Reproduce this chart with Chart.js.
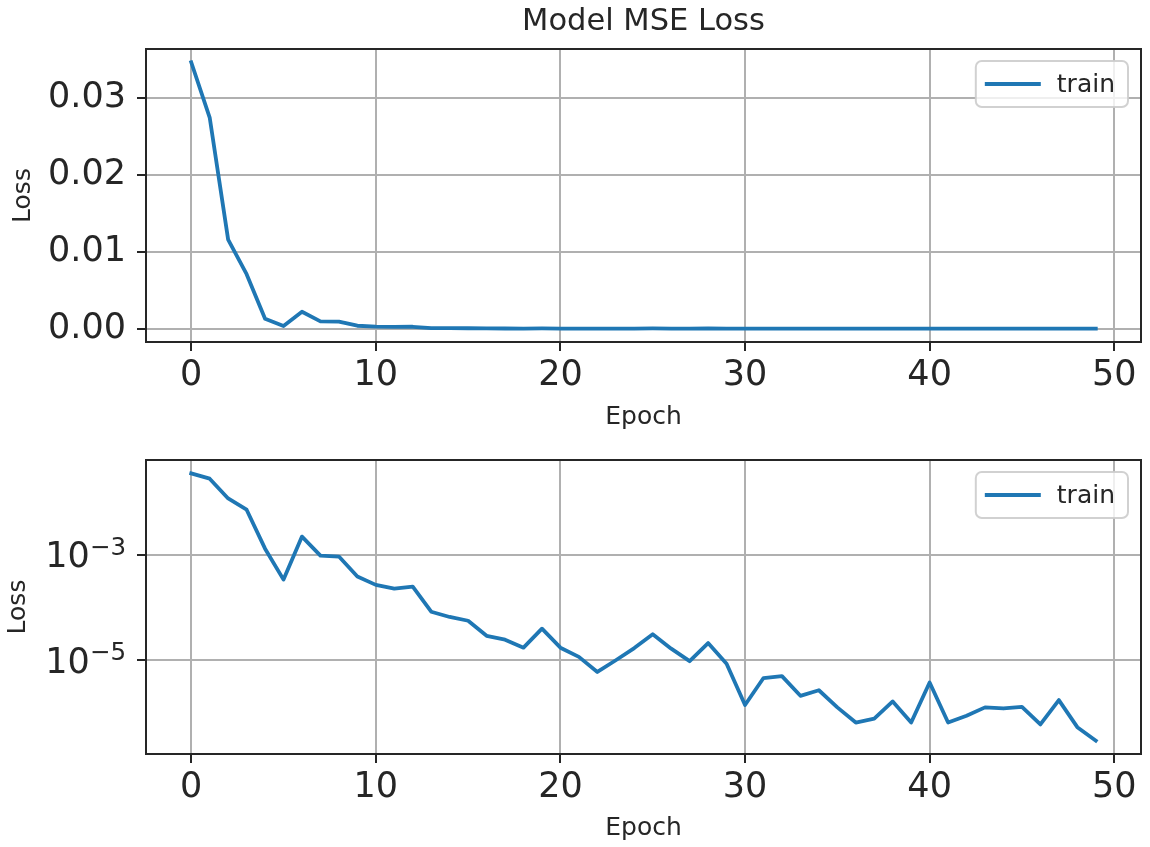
<!DOCTYPE html>
<html>
<head>
<meta charset="utf-8">
<script src="https://cdn.jsdelivr.net/npm/chart.js@4.4.1/dist/chart.umd.min.js"></script>
<style>
  html, body { margin: 0; padding: 0; background: #ffffff; }
  #wrap { position: relative; width: 1150px; height: 847px; }
  canvas { position: absolute; left: 0; }
</style>
</head>
<body>
<div id="wrap">
  <canvas id="linChart" width="1150" height="432" style="top:0px"></canvas>
  <canvas id="logChart" width="1150" height="415" style="top:432px"></canvas>
</div>
<script>
// Training history: mean squared error per epoch
const epochs = [
  0, 1, 2, 3, 4, 5, 6, 7, 8, 9,
  10, 11, 12, 13, 14, 15, 16, 17, 18, 19,
  20, 21, 22, 23, 24, 25, 26, 27, 28, 29,
  30, 31, 32, 33, 34, 35, 36, 37, 38, 39,
  40, 41, 42, 43, 44, 45, 46, 47, 48, 49
];
const trainLoss = [
  0.0347, 0.0275, 0.0116, 0.0071, 0.0013, 0.000337, 0.0022, 0.00096, 0.00092, 0.000385,
  0.000268, 0.000228, 0.000249, 8.3e-5, 6.6e-5, 5.6e-5, 2.9e-5, 2.45e-5, 1.73e-5, 3.96e-5,
  1.73e-5, 1.16e-5, 6.0e-6, 1.0e-5, 1.7e-5, 3.1e-5, 1.66e-5, 9.6e-6, 2.12e-5, 8.6e-6,
  1.42e-6, 4.6e-6, 5.0e-6, 2.12e-6, 2.7e-6, 1.28e-6, 6.6e-7, 7.8e-7, 1.66e-6, 6.6e-7,
  3.8e-6, 6.6e-7, 8.9e-7, 1.28e-6, 1.22e-6, 1.31e-6, 6.1e-7, 1.76e-6, 5.4e-7, 3.0e-7
];
const seriesLabel = 'train';
const epochTicks = [0, 10, 20, 30, 40, 50];
const linearLossTicks = [0, 0.01, 0.02, 0.03];
const logLossTicks = [1e-5, 1e-3];

const FONT = '"DejaVu Sans", "Liberation Sans", sans-serif';
const INK = '#262626';
const GRID = '#b0b0b0';
const BLUE = '#1f77b4';
const TICK_SIZE = 35;

// Axis limits padded by 5% of the data span on each side
const xPad = 0.05 * (epochs[epochs.length - 1] - epochs[0]);
const xMin = epochs[0] - xPad, xMax = epochs[epochs.length - 1] + xPad;
const yLo = Math.min(...trainLoss), yHi = Math.max(...trainLoss);
const linPad = 0.05 * (yHi - yLo);
const logSpan = Math.log10(yHi) - Math.log10(yLo);
const logMin = Math.pow(10, Math.log10(yLo) - 0.05 * logSpan);
const logMax = Math.pow(10, Math.log10(yHi) + 0.05 * logSpan);

const points = epochs.map((e, i) => ({ x: e, y: trainLoss[i] }));

// Full rectangular frame around the plotting area
const framePlugin = {
  id: 'frame',
  afterDatasetsDraw(chart) {
    const { ctx, chartArea: a } = chart;
    ctx.save();
    ctx.strokeStyle = INK;
    ctx.lineWidth = 2;
    ctx.strokeRect(a.left, a.top, a.right - a.left, a.bottom - a.top);
    ctx.restore();
  }
};

// Boxed legend placed inside the upper-right corner of the plot
const innerLegendPlugin = {
  id: 'innerLegend',
  afterDraw(chart) {
    const { ctx, chartArea: a } = chart;
    const ds = chart.data.datasets[0];
    ctx.save();
    ctx.font = '25px ' + FONT;
    const tw = ctx.measureText(ds.label).width;
    const w = 82 + tw + 12, h = 46;
    const x = a.right - 13 - w, y = a.top + 12;
    ctx.beginPath();
    ctx.roundRect(x, y, w, h, 6);
    ctx.fillStyle = 'rgba(255,255,255,0.8)';
    ctx.fill();
    ctx.strokeStyle = 'rgba(204,204,204,0.9)';
    ctx.lineWidth = 2;
    ctx.stroke();
    ctx.beginPath();
    ctx.moveTo(x + 9, y + h / 2);
    ctx.lineTo(x + 65, y + h / 2);
    ctx.strokeStyle = ds.borderColor;
    ctx.lineWidth = 4;
    ctx.stroke();
    ctx.fillStyle = INK;
    ctx.textBaseline = 'middle';
    ctx.textAlign = 'left';
    ctx.fillText(ds.label, x + 81, y + h / 2 + 1);
    ctx.restore();
  }
};

// Power-of-ten tick labels with a raised exponent
const powerTicksPlugin = {
  id: 'powerTicks',
  afterDraw(chart) {
    const s = chart.scales.y;
    const ctx = chart.ctx;
    const right = s.right - 9 - 11;
    const expSize = TICK_SIZE * 0.7;
    ctx.save();
    ctx.fillStyle = INK;
    ctx.textAlign = 'left';
    ctx.textBaseline = 'alphabetic';
    for (const t of s.ticks) {
      const py = s.getPixelForValue(t.value);
      const exp = Math.round(Math.log10(t.value));
      const expText = (exp < 0 ? '\u2212' : '') + Math.abs(exp);
      ctx.font = expSize + 'px ' + FONT;
      const ew = ctx.measureText(expText).width;
      ctx.font = TICK_SIZE + 'px ' + FONT;
      const bw = ctx.measureText('10').width;
      const x0 = right - ew - bw;
      ctx.fillText('10', x0, py + 12.7);
      ctx.font = expSize + 'px ' + FONT;
      ctx.fillText(expText, x0 + bw, py);
    }
    ctx.restore();
  }
};

function xAxis(height, titlePadBottom) {
  return {
    type: 'linear',
    min: xMin,
    max: xMax,
    afterBuildTicks: s => { s.ticks = epochTicks.map(v => ({ value: v })); },
    afterFit: s => { s.height = height; },
    grid: { color: GRID, lineWidth: 2, drawTicks: true, tickLength: 9, tickColor: INK, tickWidth: 2 },
    border: { display: false },
    ticks: {
      color: INK, font: { family: FONT, size: TICK_SIZE }, padding: 3.5,
      maxRotation: 0, autoSkip: false,
      callback: v => String(v)
    },
    title: {
      display: true, text: 'Epoch', color: INK,
      font: { family: FONT, size: 25 },
      padding: { top: 0, bottom: titlePadBottom }
    }
  };
}

function yTitle(padTop) {
  return {
    display: true, text: 'Loss', color: INK,
    font: { family: FONT, size: 25 },
    padding: { top: padTop, bottom: 0 }
  };
}

const lineDataset = () => ({
  label: seriesLabel,
  data: points,
  borderColor: BLUE,
  backgroundColor: BLUE,
  borderWidth: 3.8,
  pointRadius: 0,
  tension: 0,
  borderJoinStyle: 'round',
  borderCapStyle: 'square'
});

const commonPlugins = {
  legend: { display: false },
  tooltip: { enabled: false }
};

// Upper panel: linear loss axis
new Chart(document.getElementById('linChart'), {
  type: 'line',
  data: { datasets: [lineDataset()] },
  options: {
    responsive: false,
    animation: false,
    layout: { padding: { left: 0, right: 9, top: 0, bottom: 0 } },
    plugins: {
      ...commonPlugins,
      title: {
        display: true, text: 'Model MSE Loss', color: INK,
        fullSize: false,
        font: { family: FONT, size: 30.5, weight: 'normal' },
        padding: { top: 4, bottom: 8.4 }
      }
    },
    scales: {
      x: xAxis(90, 0),
      y: {
        type: 'linear',
        min: yLo - linPad,
        max: yHi + linPad,
        afterBuildTicks: s => { s.ticks = linearLossTicks.map(v => ({ value: v })); },
        afterFit: s => { s.width = 146; },
        grid: { color: GRID, lineWidth: 2, drawTicks: true, tickLength: 9, tickColor: INK, tickWidth: 2 },
        border: { display: false },
        ticks: {
          color: INK, font: { family: FONT, size: TICK_SIZE }, padding: 11,
          callback: v => Number(v).toFixed(2)
        },
        title: yTitle(8)
      }
    }
  },
  plugins: [framePlugin, innerLegendPlugin]
});

// Lower panel: same history on a logarithmic loss axis
new Chart(document.getElementById('logChart'), {
  type: 'line',
  data: { datasets: [lineDataset()] },
  options: {
    responsive: false,
    animation: false,
    layout: { padding: { left: 0, right: 9, top: 28, bottom: 0 } },
    plugins: { ...commonPlugins, title: { display: false } },
    scales: {
      x: xAxis(93, 4),
      y: {
        type: 'logarithmic',
        min: logMin,
        max: logMax,
        afterBuildTicks: s => { s.ticks = logLossTicks.map(v => ({ value: v })); },
        afterFit: s => { s.width = 146; },
        grid: { color: GRID, lineWidth: 2, drawTicks: true, tickLength: 9, tickColor: INK, tickWidth: 2 },
        border: { display: false },
        ticks: {
          display: false,
          callback: v => '10^' + Math.round(Math.log10(v))
        },
        title: yTitle(3)
      }
    }
  },
  plugins: [framePlugin, innerLegendPlugin, powerTicksPlugin]
});
</script>
</body>
</html>
